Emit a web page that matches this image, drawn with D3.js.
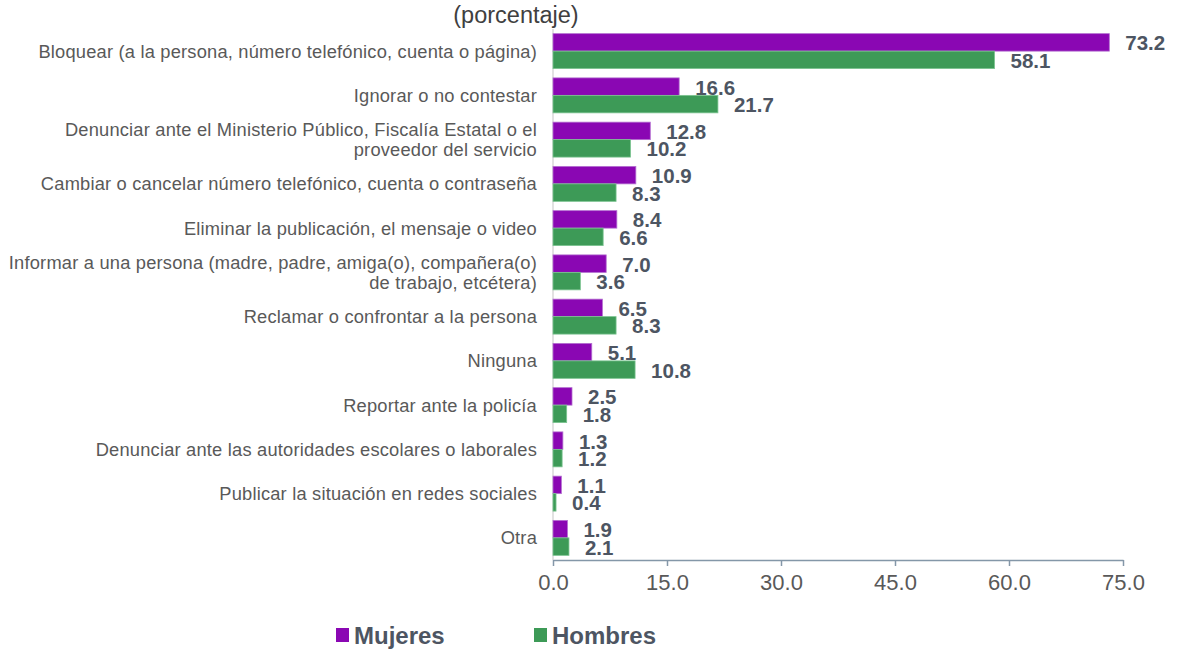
<!DOCTYPE html>
<html><head><meta charset="utf-8">
<script src="https://cdn.jsdelivr.net/npm/d3@7"></script>
<style>body{margin:0;background:#fff;font-family:"Liberation Sans",Arial,sans-serif;}</style>
</head><body><svg id="c" width="1178" height="650"></svg>
<script>
const categories = [
  "Bloquear (a la persona, número telefónico, cuenta o página)",
  "Ignorar o no contestar",
  "Denunciar ante el Ministerio Público, Fiscalía Estatal o el\nproveedor del servicio",
  "Cambiar o cancelar número telefónico, cuenta o contraseña",
  "Eliminar la publicación, el mensaje o video",
  "Informar a una persona (madre, padre, amiga(o), compañera(o)\nde trabajo, etcétera)",
  "Reclamar o confrontar a la persona",
  "Ninguna",
  "Reportar ante la policía",
  "Denunciar ante las autoridades escolares o laborales",
  "Publicar la situación en redes sociales",
  "Otra"
];
const mujeres = [73.2, 16.6, 12.8, 10.9, 8.4, 7.0, 6.5, 5.1, 2.5, 1.3, 1.1, 1.9];
const hombres = [58.1, 21.7, 10.2, 8.3, 6.6, 3.6, 8.3, 10.8, 1.8, 1.2, 0.4, 2.1];
const seriesNames = ["Mujeres", "Hombres"];
const colors = ["#8a07b3", "#3d9a57"];
const strokes = ["#b36fd0", "#7cc491"];
const ticks = [0, 15, 30, 45, 60, 75];
const title = "(porcentaje)";

const svg = d3.select("#c");
const x0 = 553, x1 = 1123, yTop = 29, yBot = 560;
const x = d3.scaleLinear().domain([0, 75]).range([x0, x1]);
const y = d3.scaleBand().domain(categories).range([yTop, yBot]).paddingInner(0.21).paddingOuter(0.105);
const ySub = d3.scaleBand().domain(seriesNames).range([0, y.bandwidth()]);

svg.append("text").attr("x", 516).attr("y", 23).attr("text-anchor", "middle")
  .attr("font-size", 23.5).attr("fill", "#404040").text(title);

// y axis line
svg.append("line").attr("x1", x0).attr("x2", x0).attr("y1", yTop).attr("y2", yBot)
  .attr("stroke", "#d9d9d9").attr("stroke-width", 1.5);

// category labels
categories.forEach(c => {
  const lines = c.split("\n");
  const cy = y(c) + y.bandwidth() / 2;
  const t = svg.append("text").attr("text-anchor", "end").attr("font-size", 18.3)
    .attr("letter-spacing", 0.2).attr("fill", "#595959");
  lines.forEach((l, i) => {
    t.append("tspan").attr("x", 537).attr("y", cy + 6.5 + (i - (lines.length - 1) / 2) * 20).text(l);
  });
});

const data = [mujeres, hombres];
data.forEach((vals, si) => {
  const g = svg.append("g");
  g.selectAll("rect").data(vals).join("rect")
    .attr("x", x(0))
    .attr("y", (d, i) => y(categories[i]) + ySub(seriesNames[si]))
    .attr("width", d => x(d) - x(0))
    .attr("height", ySub.bandwidth())
    .attr("fill", colors[si])
    .attr("stroke", strokes[si]).attr("stroke-width", 0.8);
  g.selectAll("text").data(vals).join("text")
    .attr("x", d => x(d) + 16)
    .attr("y", (d, i) => y(categories[i]) + ySub(seriesNames[si]) + ySub.bandwidth() / 2 + 8)
    .attr("font-size", 20.5).attr("font-weight", "bold").attr("fill", "#4d5562")
    .text(d => d.toFixed(1));
});

// x axis
const ax = svg.append("g").attr("transform", `translate(0,${yBot})`)
  .call(d3.axisBottom(x).tickValues(ticks).tickFormat(d3.format(".1f")).tickSize(6).tickSizeOuter(0));
ax.select(".domain").attr("stroke", "#8497a8").attr("stroke-width", 1.5);
ax.selectAll(".tick line").attr("stroke", "#8497a8").attr("stroke-width", 1.5);
ax.selectAll(".tick text").attr("font-size", 22).attr("fill", "#595959")
  .attr("font-family", "Liberation Sans, Arial, sans-serif").attr("y", 30).attr("dy", 0);

// legend
const legX = [336, 534];
seriesNames.forEach((n, i) => {
  svg.append("rect").attr("x", legX[i]).attr("y", 628).attr("width", 13).attr("height", 14).attr("fill", colors[i]);
  svg.append("text").attr("x", legX[i] + 18).attr("y", 644).attr("font-size", 24).attr("font-weight", "bold")
    .attr("fill", "#4d5562").text(n);
});
</script></body></html>
